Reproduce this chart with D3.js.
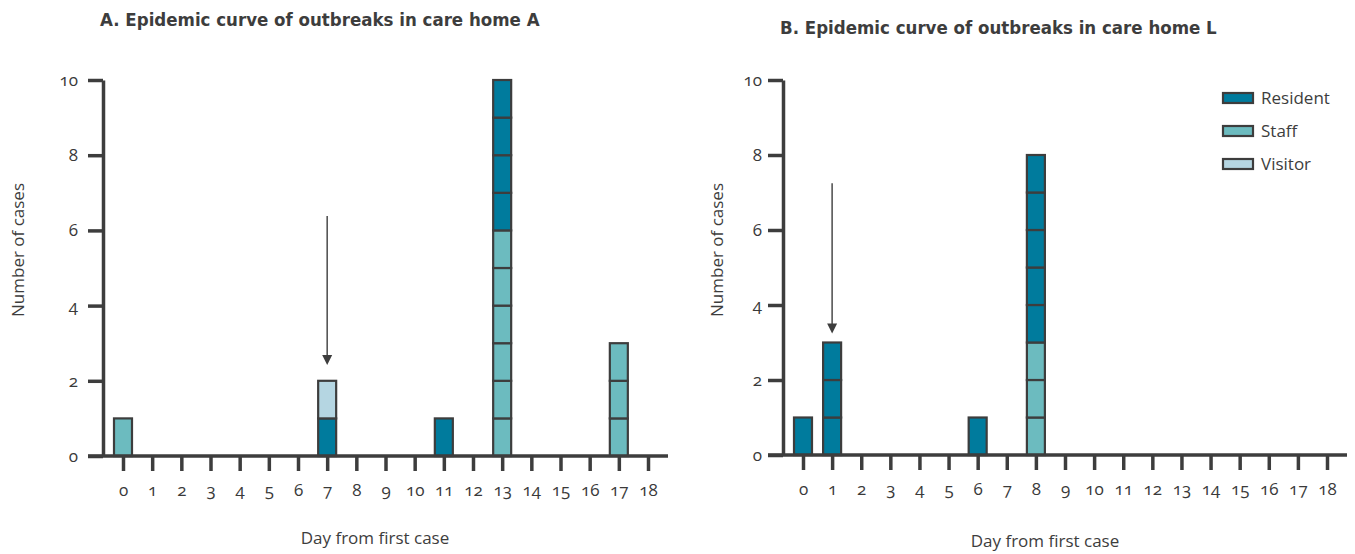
<!DOCTYPE html>
<html>
<head>
<meta charset="utf-8">
<script src="https://cdn.jsdelivr.net/npm/d3@7"></script>
<style>
  html, body { margin: 0; padding: 0; background: #fff; }
  svg { display: block; }
  .tick text { font-family: "Open Sans", "Noto Sans", Lato, sans-serif; font-variant-numeric: oldstyle-nums; font-feature-settings: "onum"; fill: #3a3a3a; }
</style>
</head>
<body>
<svg id="chart" width="1355" height="554"></svg>
<script>
// ---------- data ----------
const days = d3.range(0, 19); // 0..18
const yTicks = [0, 2, 4, 6, 8, 10];
const categories = ["Staff", "Resident", "Visitor"];        // stacking order (bottom -> top)
const legendOrder = ["Resident", "Staff", "Visitor"];

// Care home A (cases per day)
const aDays     = [0, 7, 11, 13, 17];
const aStaff    = [1, 0, 0, 6, 3];
const aResident = [0, 1, 1, 4, 0];
const aVisitor  = [0, 1, 0, 0, 0];

// Care home L (cases per day)
const bDays     = [0, 1, 6, 8];
const bStaff    = [0, 0, 0, 3];
const bResident = [1, 3, 1, 5];
const bVisitor  = [0, 0, 0, 0];

const titles = ["A. Epidemic curve of outbreaks in care home A",
                "B. Epidemic curve of outbreaks in care home L"];
// arrow annotation: [day, top value, tip value]
const arrowA = [7, 6.38, 2.42];
const arrowB = [1, 7.25, 3.24];

// ---------- style ----------
const colors = { Resident: "#007b9d", Staff: "#6cbbbf", Visitor: "#b5d6e2" };
const ink = "#3d3d3d";
const textFont = '"Open Sans", "Noto Sans", Lato, sans-serif';
const titleFont = '"DejaVu Sans Condensed", "Liberation Sans Narrow", sans-serif';

const svg = d3.select("#chart");

function panel(cfg) {
  const x = d3.scaleLinear().domain([0, 18]).range(cfg.xRange);
  const y = d3.scaleLinear().domain([0, 10]).range(cfg.yRange);
  const g = svg.append("g");
  const axisX = x(0) - 20;

  // title
  g.append("text").attr("x", cfg.titleX).attr("y", cfg.titleY)
    .attr("font-family", titleFont).attr("font-weight", "bold")
    .attr("font-size", 18.5).attr("fill", ink).text(cfg.title);

  // bars: one outlined cell per case
  const cells = [];
  cfg.days.forEach((d, i) => {
    let base = 0;
    categories.forEach(c => {
      const n = cfg.values[c][i];
      for (let k = 0; k < n; k++) {
        cells.push({ day: d, cat: c, v0: base, v1: base + 1 });
        base++;
      }
    });
  });
  const bw = 18;
  g.selectAll("rect.cell").data(cells).join("rect").attr("class", "cell")
    .attr("x", d => x(d.day) - bw / 2)
    .attr("y", d => y(d.v1))
    .attr("width", bw)
    .attr("height", d => y(d.v0) - y(d.v1))
    .attr("fill", d => colors[d.cat])
    .attr("stroke", ink).attr("stroke-width", 2.2);

  // y axis
  const ya = g.append("g").attr("transform", `translate(${axisX},0)`)
    .call(d3.axisLeft(y).tickValues(yTicks).tickSize(15).tickSizeOuter(0).tickPadding(cfg.yPad));
  ya.select(".domain").attr("stroke", ink).attr("stroke-width", 3.5);
  ya.selectAll(".tick line").attr("stroke", ink).attr("stroke-width", 3.5);
  ya.selectAll(".tick text").attr("font-size", 17).attr("font-family", null);

  // x axis
  const xa = g.append("g").attr("transform", `translate(0,${y(0)})`)
    .call(d3.axisBottom(x).tickValues(days).tickSize(15).tickPadding(13));
  xa.select(".domain").remove();
  xa.selectAll(".tick line").attr("stroke", ink).attr("stroke-width", 3.5);
  xa.selectAll(".tick text").attr("font-size", 17).attr("font-family", null);
  g.append("line")
    .attr("x1", axisX - 15).attr("x2", x(18) + 20)
    .attr("y1", y(0)).attr("y2", y(0))
    .attr("stroke", ink).attr("stroke-width", 3.5);

  // axis titles
  g.append("text")
    .attr("transform", `translate(${cfg.yTitleX},${cfg.yTitleY}) rotate(-90)`)
    .attr("text-anchor", "middle").attr("font-family", textFont)
    .attr("font-size", 17).attr("fill", ink).text("Number of cases");
  g.append("text")
    .attr("x", cfg.xTitleX).attr("y", cfg.xTitleY)
    .attr("text-anchor", "middle").attr("font-family", textFont)
    .attr("font-size", 17).attr("fill", ink).text("Day from first case");

  // arrow
  const [ad, atop, atip] = cfg.arrow;
  const ax = x(ad);
  g.append("line").attr("x1", ax).attr("x2", ax)
    .attr("y1", y(atop)).attr("y2", y(atip) - 8)
    .attr("stroke", ink).attr("stroke-width", 1.4);
  g.append("path")
    .attr("d", `M${ax - 5},${y(atip) - 10} L${ax + 5},${y(atip) - 10} L${ax},${y(atip)} Z`)
    .attr("fill", ink);

  return g;
}

panel({
  title: titles[0], titleX: 100, titleY: 26,
  xRange: [123, 648], yRange: [456, 80], yPad: 10,
  days: aDays, values: { Staff: aStaff, Resident: aResident, Visitor: aVisitor },
  yTitleX: 24, yTitleY: 250, xTitleX: 375, xTitleY: 544,
  arrow: arrowA
});

panel({
  title: titles[1], titleX: 780, titleY: 34,
  xRange: [803, 1327], yRange: [455, 80], yPad: 6,
  days: bDays, values: { Staff: bStaff, Resident: bResident, Visitor: bVisitor },
  yTitleX: 723, yTitleY: 250, xTitleX: 1045, xTitleY: 547,
  arrow: arrowB
});

// legend
const lg = svg.append("g");
const ly = d3.scaleBand().domain(legendOrder).range([93, 192]);
legendOrder.forEach(c => {
  lg.append("rect").attr("x", 1223).attr("y", ly(c)).attr("width", 30).attr("height", 10)
    .attr("fill", colors[c]).attr("stroke", ink).attr("stroke-width", 2.2);
  lg.append("text").attr("x", 1261).attr("y", ly(c) + 5).attr("dy", "0.36em")
    .attr("font-family", textFont).attr("font-size", 17).attr("fill", ink).text(c);
});
</script>
</body>
</html>
